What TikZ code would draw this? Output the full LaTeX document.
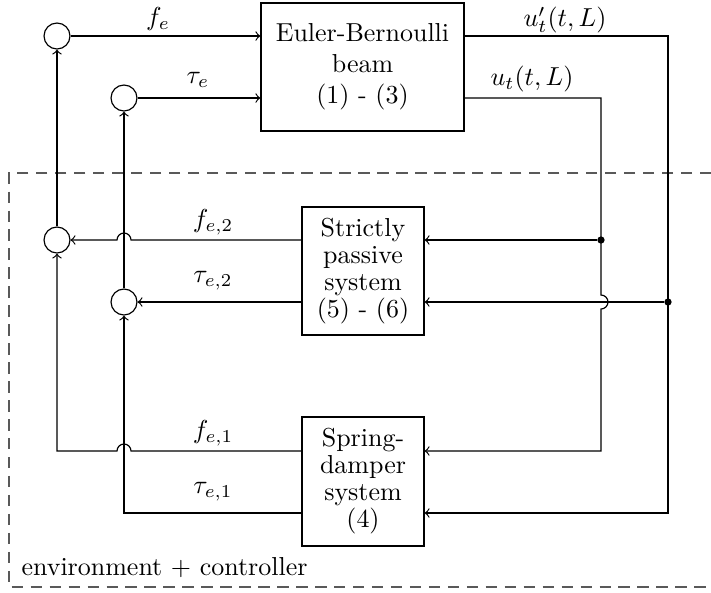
\documentclass[tikz,border=0pt]{standalone}
\usetikzlibrary{calc}
\begin{document}
\begin{tikzpicture}[x=0.385pt,y=-0.385pt,
  sumnode/.style={draw,circle,minimum size=10pt,inner sep=0pt,line width=0.45pt},
  blockbox/.style={draw,align=center,inner sep=0pt,line width=0.45pt},
  wire/.style={line width=0.45pt},
  sig/.style={wire,->},
  envbox/.style={black!65,line width=0.5pt,dash pattern=on 4.4pt off 2.9pt},
  dotnode/.style={circle,fill,inner sep=0pt,minimum size=2.8pt},
  lbl/.style={inner sep=0pt}]
\useasboundingbox (0,0) rectangle (711,592);
% environment box
\draw[envbox] (711,173) -- (9,173) -- (9,587) -- (711,587);
\node[lbl,anchor=west] (envlbl) at (21,568) {environment $+$ controller};
% summing junctions
\node[sumnode] (c1) at (57,36) {};
\node[sumnode] (c2) at (124,98) {};
\node[sumnode] (c3) at (57,240) {};
\node[sumnode] (c4) at (124,302) {};
% blocks
\node[blockbox,minimum width=78.2pt,minimum height=49.3pt,font=\fontsize{10}{12}\selectfont] (beam) at (362.5,67) {Euler-Bernoulli\\beam\\(1) - (3)};
\node[blockbox,minimum width=47pt,minimum height=49.3pt,font=\fontsize{10}{10.4}\selectfont] (sp) at (363,271) {Strictly\\passive\\system\\(5) - (6)};
\node[blockbox,minimum width=47pt,minimum height=49.7pt,font=\fontsize{10}{10.4}\selectfont] (sd) at (363,481.5) {Spring-\\damper\\system\\(4)};
% helper coordinates
\coordinate (ut) at (601,98);
\coordinate (upt) at (668,36);
\node[dotnode] (d1) at (601,240) {};
\node[dotnode] (d2) at (668,302) {};
\coordinate (k1) at (57,451);
\coordinate (k2) at (124,513);
% forward signals
\draw[sig] (c1) -- (c1 -| beam.west);
\draw[sig] (c2) -- (c2 -| beam.west);
% outputs of the beam
\draw[sig] (beam.east |- upt) -- (upt) -- (upt |- k2) -- (sd.east |- k2);
\draw[sig] (beam.east |- ut) -- (ut) -- (601,295) arc[start angle=90,end angle=-90,radius=2.695pt] -- (601,451) -- (sd.east |- 0,451);
\draw[sig] (d1) -- (sp.east |- d1);
\draw[sig] (d2) -- (sp.east |- d2);
% outputs of strictly passive system
\draw[sig] (sp.west |- d1) -- (131,240) arc[start angle=0,end angle=180,radius=2.695pt] -- (c3);
\draw[sig] (sp.west |- d2) -- (c4);
% outputs of spring-damper
\draw[sig] (sd.west |- k1) -- (131,451) arc[start angle=0,end angle=180,radius=2.695pt] -- (k1) -- (c3);
\draw[sig] (sd.west |- k2) -- (k2) -- (c4);
% feedback up
\draw[sig] (c3) -- (c1);
\draw[sig] (c4) -- (c2);
% labels
\node[lbl] (lfe) at (158,19) {$f_e$};
\node[lbl] (lte) at (198,80) {$\tau_e$};
\node[lbl] (lfe2) at (213,222) {$f_{e,2}$};
\node[lbl] (lte2) at (213,281) {$\tau_{e,2}$};
\node[lbl] (lfe1) at (213,433) {$f_{e,1}$};
\node[lbl] (lte1) at (213,492) {$\tau_{e,1}$};
\node[lbl] (lupt) at (565,20) {$u'_t(t,L)$};
\node[lbl] (lut) at (532,79) {$u_t(t,L)$};
\end{tikzpicture}
\end{document}
